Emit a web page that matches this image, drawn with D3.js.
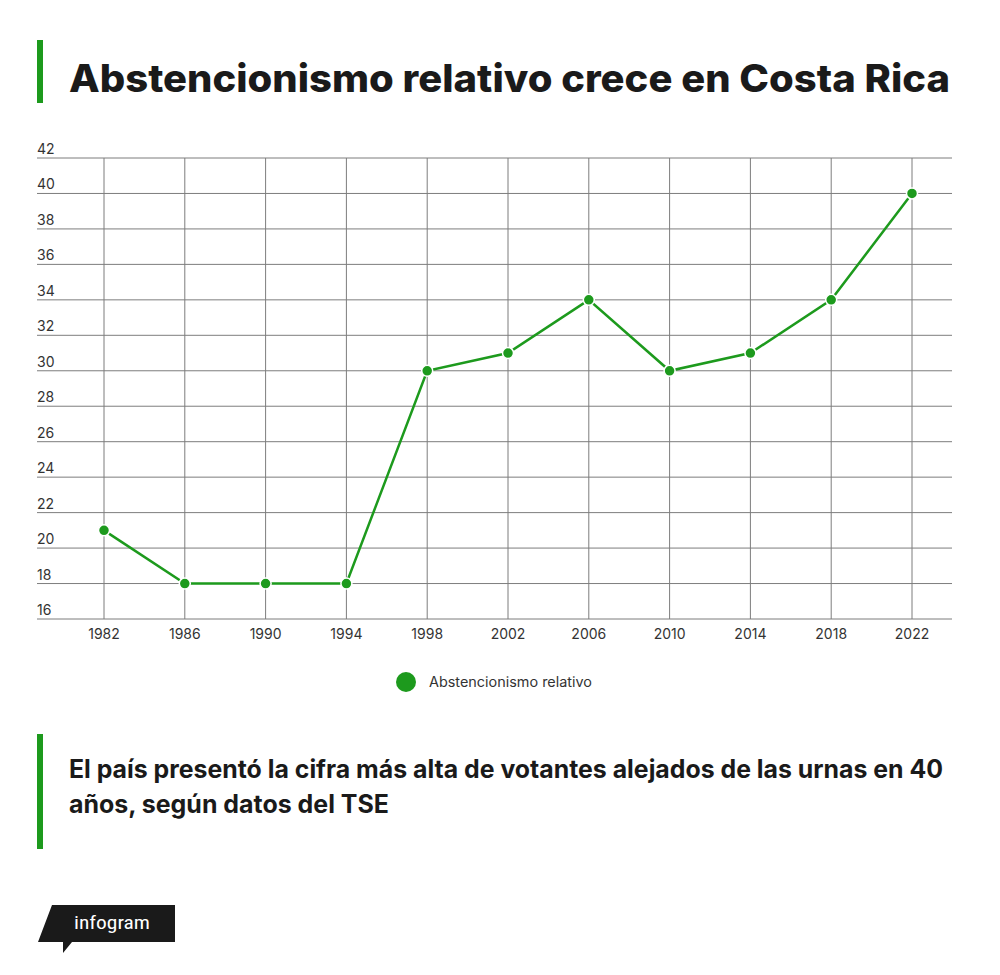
<!DOCTYPE html>
<html>
<head>
<meta charset="utf-8">
<script src="https://cdn.jsdelivr.net/npm/d3@7"></script>
<style>
  html, body { margin: 0; padding: 0; background: #fff; }
  svg { display: block; font-family: Inter, "Liberation Sans", sans-serif; }
</style>
</head>
<body>
<svg width="1000" height="975"></svg>
<script>
const years = [1982, 1986, 1990, 1994, 1998, 2002, 2006, 2010, 2014, 2018, 2022];
const abstencion = [21, 18, 18, 18, 30, 31, 34, 30, 31, 34, 40];
const yTicks = [16, 18, 20, 22, 24, 26, 28, 30, 32, 34, 36, 38, 40, 42];
const title = "Abstencionismo relativo crece en Costa Rica";
const subtitle = ["El país presentó la cifra más alta de votantes alejados de las urnas en 40", "años, según datos del TSE"];
const subtitleWidths = [874, 320];
const seriesName = "Abstencionismo relativo";

const svg = d3.select("svg");
const green = "#1d9a1d";

// header
svg.append("rect").attr("x", 37).attr("y", 40).attr("width", 6).attr("height", 63).attr("fill", green);
svg.append("text").attr("x", 69).attr("y", 92).text(title)
  .attr("font-size", 38).attr("font-weight", 800).attr("fill", "#1a1a1a")
  .attr("textLength", 881).attr("lengthAdjust", "spacingAndGlyphs");

const x = d3.scaleLinear().domain([1982, 2022]).range([104, 912]);
const y = d3.scaleLinear().domain([16, 42]).range([619, 158]);
const left = 37, right = 952;

const g = svg.append("g");

// horizontal grid + labels
g.selectAll(".hgrid").data(yTicks).join("line")
  .attr("x1", left).attr("x2", right)
  .attr("y1", d => y(d)).attr("y2", d => y(d))
  .attr("stroke", "#7d7d7d").attr("stroke-width", 1);
g.selectAll(".ylab").data(yTicks).join("text")
  .attr("x", left).attr("y", d => y(d) - 4)
  .text(d => d).attr("font-size", 14).attr("fill", "#333");

// vertical grid + labels
g.selectAll(".vgrid").data(years).join("line")
  .attr("x1", d => x(d)).attr("x2", d => x(d))
  .attr("y1", y(42)).attr("y2", y(16))
  .attr("stroke", "#7d7d7d").attr("stroke-width", 1);
g.selectAll(".xlab").data(years).join("text")
  .attr("x", d => x(d)).attr("y", 639)
  .attr("text-anchor", "middle")
  .text(d => d).attr("font-size", 14).attr("fill", "#333");

const data = years.map((yr, i) => ({ yr, v: abstencion[i] }));

const line = d3.line().x(d => x(d.yr)).y(d => y(d.v));
g.append("path").datum(data).attr("d", line)
  .attr("fill", "none").attr("stroke", green).attr("stroke-width", 2.5);

g.selectAll(".pt").data(data).join("circle")
  .attr("cx", d => x(d.yr)).attr("cy", d => y(d.v)).attr("r", 5.5)
  .attr("fill", green).attr("stroke", "#fff").attr("stroke-width", 1.5);

// legend
svg.append("circle").attr("cx", 406).attr("cy", 682).attr("r", 10).attr("fill", green);
svg.append("text").attr("x", 429).attr("y", 687).text(seriesName)
  .attr("font-size", 14).attr("fill", "#333")
  .attr("textLength", 163).attr("lengthAdjust", "spacingAndGlyphs");

// subtitle
svg.append("rect").attr("x", 37).attr("y", 734).attr("width", 6).attr("height", 115).attr("fill", green);
svg.selectAll(".sub").data(subtitle).join("text")
  .attr("x", 69).attr("y", (d, i) => 778 + i * 35)
  .text(d => d).attr("font-size", 25).attr("font-weight", 700).attr("fill", "#1a1a1a")
  .attr("textLength", (d, i) => subtitleWidths[i]).attr("lengthAdjust", "spacingAndGlyphs");

// infogram badge
svg.append("path")
  .attr("d", "M52,905 L175,905 L175,942 L72,942 L63,953 L63,942 L38,942 Z")
  .attr("fill", "#1a1a1a");
svg.append("text").attr("x", 74).attr("y", 929).text("infogram")
  .attr("font-size", 19).attr("fill", "#fff")
  .attr("font-family", "'Roboto Condensed', 'Liberation Sans Narrow', 'DejaVu Sans Condensed', sans-serif")
  .attr("textLength", 76).attr("lengthAdjust", "spacingAndGlyphs");
</script>
</body>
</html>
